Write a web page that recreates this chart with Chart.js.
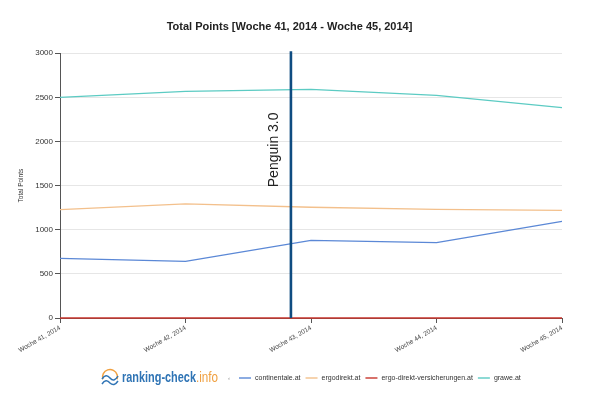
<!DOCTYPE html>
<html>
<head>
<meta charset="utf-8">
<script src="https://cdn.jsdelivr.net/npm/chart.js@4"></script>
<style>
  html, body { margin: 0; padding: 0; background: #fff; }
  #wrap { width: 595px; height: 400px; }
</style>
</head>
<body>
<div id="wrap"><canvas id="pointsChart" width="595" height="400"></canvas></div>
<script>
const weeks = ['Woche 41, 2014', 'Woche 42, 2014', 'Woche 43, 2014', 'Woche 44, 2014', 'Woche 45, 2014'];
const continentale = [675, 642, 879, 853, 1094];
const ergodirekt = [1228, 1293, 1255, 1230, 1220];
const ergoDirektVers = [0, 0, 0, 0, 0];
const grawe = [2500, 2568, 2590, 2523, 2383];
const yTicks = [0, 500, 1000, 1500, 2000, 2500, 3000];

// Penguin 3.0 marker sits between week 42 and 43 (category index)
const penguinAt = 1.84;
const penguinLabel = 'Penguin 3.0';

const penguinPlugin = {
    id: 'penguin',
    afterDatasetsDraw(chart) {
        const { ctx, chartArea, scales } = chart;
        const x = scales.x.getPixelForValue(penguinAt);
        ctx.save();
        ctx.strokeStyle = '#0f4c81';
        ctx.lineWidth = 2.6;
        ctx.beginPath();
        ctx.moveTo(x, chartArea.top - 2);
        ctx.lineTo(x, chartArea.bottom);
        ctx.stroke();
        ctx.translate(x - 17, scales.y.getPixelForValue(1905));
        ctx.rotate(-Math.PI / 2);
        ctx.fillStyle = '#222';
        ctx.font = '14px "Liberation Sans", Arial, sans-serif';
        ctx.textAlign = 'center';
        ctx.textBaseline = 'middle';
        ctx.fillText(penguinLabel, 0, 0);
        ctx.restore();
    }
};

// draw text squeezed to a given width (no narrow font installed)
function squeezed(ctx, text, x, y, width) {
    const w = ctx.measureText(text).width;
    ctx.save();
    ctx.translate(x, y);
    ctx.scale(width / w, 1);
    ctx.fillText(text, 0, 0);
    ctx.restore();
}

// logo + legend row at the bottom
const footerPlugin = {
    id: 'footer',
    afterDraw(chart) {
        const ctx = chart.ctx;
        const y = 378;
        ctx.save();
        // little logo icon
        ctx.strokeStyle = '#f0a040';
        ctx.lineWidth = 1.5;
        ctx.beginPath();
        ctx.arc(110, y - 1, 7.5, Math.PI * 0.9, Math.PI * 2.1);
        ctx.stroke();
        ctx.strokeStyle = '#2f74b5';
        ctx.beginPath();
        ctx.moveTo(102, y + 1);
        ctx.quadraticCurveTo(106, y - 5, 110, y);
        ctx.quadraticCurveTo(114, y + 5, 118, y - 2);
        ctx.moveTo(102, y + 6);
        ctx.quadraticCurveTo(106, y, 110, y + 5);
        ctx.quadraticCurveTo(114, y + 9, 118, y + 3);
        ctx.stroke();
        ctx.textBaseline = 'middle';
        ctx.textAlign = 'left';
        ctx.font = 'bold 15px "Liberation Sans", Arial, sans-serif';
        ctx.fillStyle = '#2f74b5';
        squeezed(ctx, 'ranking-check', 122, y, 74);
        ctx.fillStyle = '#f0a040';
        ctx.font = '15px "Liberation Sans", Arial, sans-serif';
        squeezed(ctx, '.info', 196, y, 22);

        ctx.font = '6px "Liberation Sans", Arial, sans-serif';
        ctx.fillStyle = '#888';
        ctx.fillText('\u2039', 228, y);

        let x = 239;
        ctx.font = '7px "Liberation Sans", Arial, sans-serif';
        chart.data.datasets.forEach(ds => {
            ctx.strokeStyle = ds.borderColor;
            ctx.lineWidth = 1.4;
            ctx.beginPath();
            ctx.moveTo(x, y);
            ctx.lineTo(x + 12, y);
            ctx.stroke();
            ctx.fillStyle = '#333';
            ctx.fillText(ds.label, x + 16, y);
            x += 16 + ctx.measureText(ds.label).width + 5;
        });
        ctx.restore();
    }
};

const ctx = document.getElementById('pointsChart').getContext('2d');
const chart = new Chart(ctx, {
    type: 'line',
    data: {
        labels: weeks,
        datasets: [
            { label: 'continentale.at', data: continentale, borderColor: '#5b88d6' },
            { label: 'ergodirekt.at', data: ergodirekt, borderColor: '#f3c08c' },
            { label: 'ergo-direkt-versicherungen.at', data: ergoDirektVers, borderColor: '#c8352c', clip: false },
            { label: 'grawe.at', data: grawe, borderColor: '#5ccbc3' }
        ].map(d => Object.assign(d, { borderWidth: 1.3, pointRadius: 0, tension: 0, fill: false }))
    },
    options: {
        responsive: false,
        animation: false,
        layout: { padding: { left: 17, right: 33, top: 0, bottom: 0 } },
        plugins: {
            legend: { display: false },
            tooltip: { enabled: false },
            title: {
                display: true,
                text: 'Total Points [Woche 41, 2014 - Woche 45, 2014]',
                color: '#222',
                font: { family: '"Liberation Sans", Arial, sans-serif', size: 11, weight: 'bold' },
                padding: { top: 20, bottom: 20 }
            }
        },
        scales: {
            x: {
                offset: false,
                grid: { drawOnChartArea: false, tickColor: '#555', tickLength: 5 },
                border: { color: '#555', width: 1 },
                ticks: {
                    maxRotation: 30, minRotation: 30, autoSkip: false,
                    color: '#444', padding: 1,
                    font: { family: '"Liberation Sans", Arial, sans-serif', size: 6.5 }
                },
                afterFit(scale) { scale.height = 82; }
            },
            y: {
                min: 0, max: 3000,
                afterBuildTicks(scale) { scale.ticks = yTicks.map(v => ({ value: v })); },
                grid: { color: '#e6e6e6', tickColor: '#555', tickLength: 5 },
                border: { color: '#555', width: 1 },
                ticks: {
                    color: '#333', padding: 2,
                    callback: v => String(v),
                    font: { family: '"Liberation Sans", Arial, sans-serif', size: 8 }
                },
                title: {
                    display: true, text: 'Total Points', color: '#333',
                    font: { family: '"Liberation Sans", Arial, sans-serif', size: 6.5 },
                    padding: { top: 0, bottom: 0 }
                },
                afterFit(scale) { scale.width = 43; }
            }
        }
    },
    plugins: [penguinPlugin, footerPlugin]
});
</script>
</body>
</html>
